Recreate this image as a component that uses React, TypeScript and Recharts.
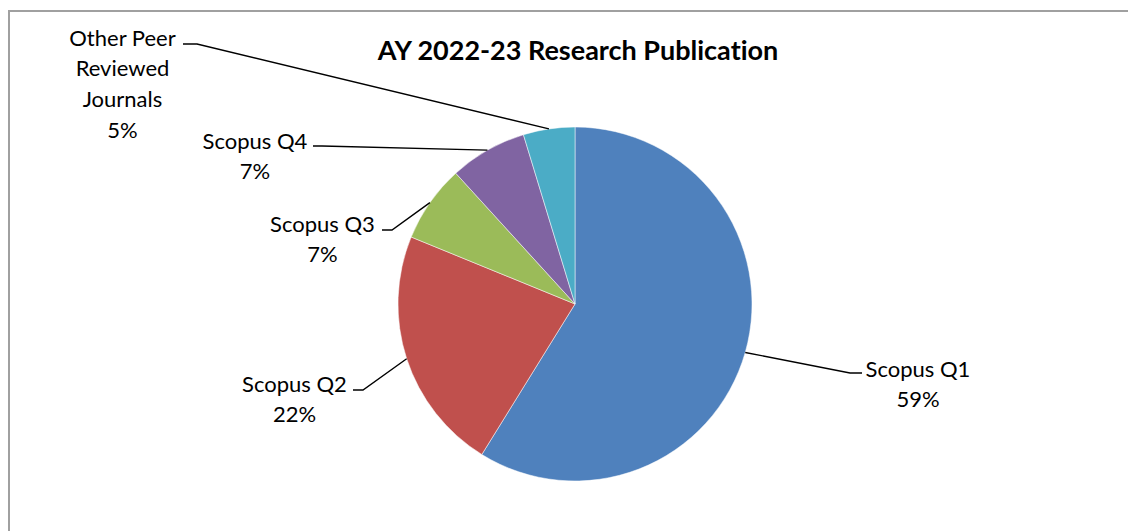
import React from "react";
import { PieChart, Pie, Cell } from "recharts";

const categories = ["Scopus Q1", "Scopus Q2", "Scopus Q3", "Scopus Q4", "Other Peer Reviewed Journals"];
const labelLines = [["Scopus Q1"], ["Scopus Q2"], ["Scopus Q3"], ["Scopus Q4"], ["Other Peer", "Reviewed", "Journals"]];
const counts = [50, 19, 6, 6, 4];
const colors = ["#4F81BD", "#C0504D", "#9BBB59", "#8064A2", "#4BACC6"];
const title = "AY 2022-23 Research Publication";

// label layout relative to pie center: text first-line center, elbow, horizontal end
const labelLayout = [
  { tx: 343, ty: 64, ex: 275, ey: 69, hx: 287 },
  { tx: -280.5, ty: 79, ex: -212, ey: 86, hx: -222 },
  { tx: -252.5, ty: -81, ex: -183, ey: -74, hx: -193 },
  { tx: -320, ty: -164, ex: -253, ey: -158, hx: -262 },
  { tx: -452.5, ty: -267, ex: -378, ey: -260, hx: -392 },
];

const data = categories.map((name, i) => ({ name, value: counts[i] }));
const FONT = "Lato, 'Open Sans', sans-serif";
const RAD = Math.PI / 180;

const renderLabel = (props: any) => {
  const { cx, cy, midAngle, outerRadius, index, percent } = props;
  const L = labelLayout[index];
  const sx = cx + outerRadius * Math.cos(-midAngle * RAD);
  const sy = cy + outerRadius * Math.sin(-midAngle * RAD);
  const ex = cx + L.ex;
  const ey = cy + L.ey;
  const hx = cx + L.hx;
  const lines = [...labelLines[index], Math.round(percent * 100) + "%"];
  return (
    <g key={"lbl" + index}>
      <polyline
        points={`${sx},${sy} ${ex},${ey} ${hx},${ey}`}
        fill="none"
        stroke="#000"
        strokeWidth={1.4}
      />
      {lines.map((t, k) => (
        <text
          key={k}
          x={cx + L.tx}
          y={cy + L.ty + k * 30.7}
          textAnchor="middle"
          dominantBaseline="central"
          fontFamily={FONT}
          fontSize={22}
          fill="#000"
          style={{ fontVariantLigatures: "none" }}
        >
          {t}
        </text>
      ))}
    </g>
  );
};

export default function App() {
  return (
    <div
      style={{
        position: "fixed",
        left: 0,
        top: 0,
        width: 1128,
        height: 531,
        overflow: "hidden",
        background: "#fff",
      }}
    >
      <div
        style={{
          position: "absolute",
          left: 8,
          top: 10,
          width: 1140,
          height: 540,
          border: "2px solid #a0a0a0",
          boxSizing: "border-box",
        }}
      />
      <div
        style={{
          position: "absolute",
          left: 0,
          top: 34,
          width: 1156,
          textAlign: "center",
          fontFamily: FONT,
          fontWeight: 700,
          fontSize: 27,
          lineHeight: "32px",
          color: "#000",
          fontVariantLigatures: "none",
        }}
      >
        {title}
      </div>
      <div style={{ position: "absolute", left: 0, top: 0 }}>
        <PieChart width={1128} height={531} margin={{ top: 0, right: 0, bottom: 0, left: 0 }}>
          <Pie
            data={data}
            dataKey="value"
            nameKey="name"
            cx={575}
            cy={304}
            outerRadius={177}
            startAngle={90}
            endAngle={-270}
            stroke="#ffffff"
            strokeWidth={0.5}
            label={renderLabel}
            labelLine={false}
            isAnimationActive={false}
          >
            {data.map((d, i) => (
              <Cell key={d.name} fill={colors[i]} />
            ))}
          </Pie>
        </PieChart>
      </div>
    </div>
  );
}
